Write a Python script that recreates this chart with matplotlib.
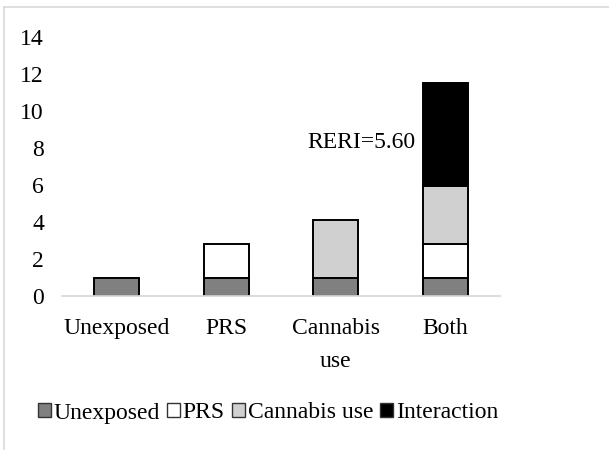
import matplotlib
matplotlib.use("Agg")
import matplotlib.pyplot as plt
from matplotlib.patches import Patch
from matplotlib.lines import Line2D
import numpy as np

plt.rcParams['font.family'] = ['Liberation Serif', 'DejaVu Serif']

categories = ["Unexposed", "PRS", "Cannabis\nuse", "Both"]
unexposed = [1.0, 1.0, 1.0, 1.0]
prs = [0.0, 1.82, 0.0, 1.82]
cannabis = [0.0, 0.0, 3.1, 3.1]
interaction = [0.0, 0.0, 0.0, 5.6]
series_names = ["Unexposed", "PRS", "Cannabis use", "Interaction"]
colors = ["#808080", "#ffffff", "#d0d0d0", "#000000"]

fs = 17

fig = plt.figure(figsize=(6.09, 4.5), dpi=100)
ax = fig.add_axes([62/609, 1-296/450, 438/609, (296-37)/450])

x = np.arange(len(categories))
bottom = np.zeros(len(categories))
for vals, c in zip([unexposed, prs, cannabis, interaction], colors):
    vals = np.array(vals)
    mask = vals > 0
    ax.bar(x[mask], vals[mask], bottom=bottom[mask], width=0.41,
           color=c, edgecolor="black", linewidth=1.4, zorder=3)
    bottom += vals

ax.set_xlim(-0.5, 3.5)
ax.set_ylim(0, 14)
ax.set_yticks(range(0, 15, 2))
ax.set_xticks(x)
ax.set_xticklabels(categories, linespacing=1.75)
ax.tick_params(axis='y', length=0, pad=13, labelsize=fs)
ax.tick_params(axis='x', length=0, pad=16, labelsize=fs)
for s in ["top", "right", "left"]:
    ax.spines[s].set_visible(False)
ax.spines["bottom"].set_color("#d9d9d9")
ax.spines["bottom"].set_linewidth(1.3)
ax.spines["bottom"].set_zorder(4)

ax.text(2.73, 8.3, "RERI=5.60", ha="right", va="center", fontsize=fs)

handles = [Patch(facecolor=c, edgecolor="#333333", linewidth=1.0) for c in colors]
fig.legend(handles, series_names, loc="center", bbox_to_anchor=(268/609, 1-413/450),
           ncol=4, frameon=False, fontsize=fs, handlelength=0.55, handleheight=0.55,
           handletextpad=0.12, columnspacing=0.3, borderaxespad=0)

# light frame around the chart area
fig.add_artist(Line2D([4/609, 4/609], [0, 1-7/450], transform=fig.transFigure,
                      color="#d9d9d9", linewidth=1.2))
fig.add_artist(Line2D([4/609, 1], [1-7/450, 1-7/450], transform=fig.transFigure,
                      color="#d9d9d9", linewidth=1.2))

fig.savefig("out.png", dpi=100)
